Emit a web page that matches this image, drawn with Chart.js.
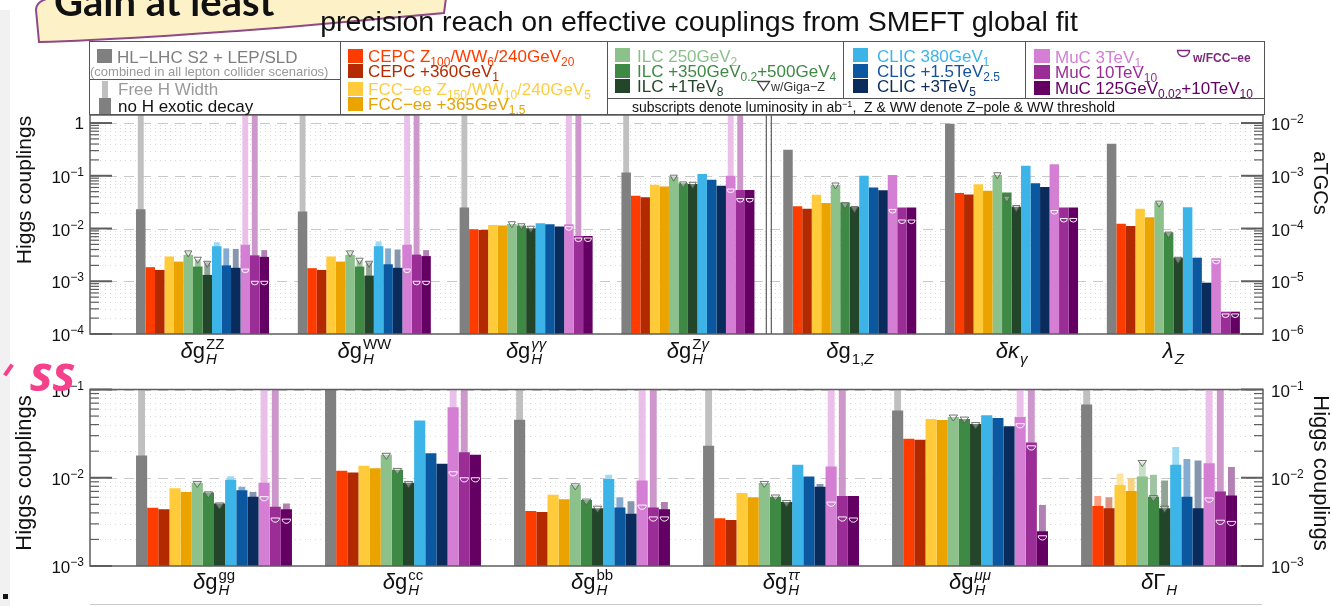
<!DOCTYPE html>
<html><head><meta charset="utf-8">
<script src="https://cdn.jsdelivr.net/npm/chart.js@4.4.1/dist/chart.umd.min.js"></script>
<style>
body{margin:0;width:1332px;height:606px;position:relative;overflow:hidden;background:#fff;font-family:"Liberation Sans",Arial,Helvetica,sans-serif;}
.a{position:absolute;}
.t{position:absolute;white-space:nowrap;transform:translateY(-50%);line-height:1;font-size:17px;}
.sq{position:absolute;width:15px;height:14px;}
.vl{position:absolute;width:0;border-left:1.5px solid #555;}
.hl{position:absolute;height:0;border-top:1.5px solid #555;}
sub{font-size:12px;vertical-align:baseline;position:relative;top:4px;line-height:0;}
sup{font-size:9px;vertical-align:baseline;position:relative;top:-5px;line-height:0;}
</style></head>
<body>
<div class="a" style="left:0;top:10px;width:10px;height:596px;background:#f1f1f1"></div>
<canvas id="topChart" class="a" style="left:0;top:0" width="1332" height="370"></canvas>
<canvas id="botChart" class="a" style="left:0;top:370px" width="1332" height="236"></canvas>

<!-- slide callout -->
<svg class="a" style="left:0;top:0" width="470" height="50">
<path d="M50,-2 Q36,1 36,10 L39,42 C110,40 200,34 300,26 C360,21 410,16 444,13 L446,-2 Z" fill="#fdf1c8" stroke="#8e4a86" stroke-width="2"/>
</svg>
<div class="a" style="left:54px;top:-19px;font:bold 40px Lato,'Open Sans',sans-serif;line-height:40px;color:#111;white-space:nowrap">Gain at least</div>
<div class="a" style="left:30px;top:349px;font:bold italic 48px 'Open Sans',sans-serif;line-height:48px;color:#f5408c;letter-spacing:0px">ss</div>
<div class="a" style="left:2px;top:368px;width:13px;height:4px;background:#f5408c;transform:rotate(-55deg)"></div>
<div class="a" style="left:3px;top:594px;width:5px;height:5px;background:#111"></div>
<div class="a" style="left:90px;top:604px;width:1172px;height:1px;background:#c8c8c8"></div>

<!-- title -->
<div class="t" style="left:33px;width:1332px;text-align:center;top:21px;font-size:28.5px;color:#111">precision reach on effective couplings from SMEFT global fit</div>

<!-- legend frame -->
<div class="a" style="left:89px;top:41px;width:1176px;height:74px;border:1.5px solid #555;box-sizing:border-box;background:#fff"></div>
<div class="vl" style="left:340px;top:41px;height:74px"></div>
<div class="vl" style="left:607px;top:41px;height:74px"></div>
<div class="vl" style="left:843px;top:41px;height:57px"></div>
<div class="vl" style="left:1025px;top:41px;height:57px"></div>
<div class="hl" style="left:89px;top:79px;width:251px"></div>
<div class="hl" style="left:607px;top:98px;width:658px"></div>

<!-- col 1 -->
<div class="sq" style="left:97px;top:49px;background:#808080"></div>
<div class="t" style="left:117px;top:57px;color:#7f7f7f">HL−LHC S2 + LEP/SLD</div>
<div class="t" style="left:90px;top:71px;font-size:13px;color:#9a9a9a">(combined in all lepton collider scenarios)</div>
<div class="a" style="left:102px;top:81px;width:6px;height:17px;background:#c0c0c0"></div>
<div class="a" style="left:99px;top:98px;width:12px;height:16px;background:#808080"></div>
<div class="t" style="left:118px;top:89px;color:#9a9a9a">Free H Width</div>
<div class="t" style="left:118px;top:106px;color:#111">no H exotic decay</div>

<!-- col 2 -->
<div class="sq" style="left:348px;top:49px;background:#ff3c00"></div>
<div class="t" style="left:368px;top:56px;color:#ff3c00">CEPC Z<sub>100</sub>/WW<sub>6</sub>/240GeV<sub>20</sub></div>
<div class="sq" style="left:348px;top:64px;background:#b32a00"></div>
<div class="t" style="left:368px;top:71px;color:#b32a00">CEPC +360GeV<sub>1</sub></div>
<div class="sq" style="left:348px;top:82px;background:#ffcb3a"></div>
<div class="t" style="left:368px;top:89px;color:#ffcd40">FCC−ee Z<sub>150</sub>/WW<sub>10</sub>/240GeV<sub>5</sub></div>
<div class="sq" style="left:348px;top:97px;background:#eba300"></div>
<div class="t" style="left:368px;top:104px;color:#e9a200">FCC−ee +365GeV<sub>1.5</sub></div>

<!-- col 3 -->
<div class="sq" style="left:615px;top:48px;background:#8cc18c"></div>
<div class="t" style="left:637px;top:56px;color:#8cc18c">ILC 250GeV<sub>2</sub></div>
<div class="sq" style="left:615px;top:64px;background:#3e8944"></div>
<div class="t" style="left:637px;top:71px;color:#3e8944">ILC +350GeV<sub>0.2</sub>+500GeV<sub>4</sub></div>
<div class="sq" style="left:615px;top:79px;background:#23462a"></div>
<div class="t" style="left:637px;top:86px;color:#23462a">ILC +1TeV<sub>8</sub></div>
<svg class="a" style="left:756px;top:80px" width="15" height="12"><path d="M1.5,1.5 L13.5,1.5 L7.5,10.5 Z" fill="none" stroke="#444" stroke-width="1.3"/></svg>
<div class="t" style="left:771px;top:87px;font-size:12.5px;color:#333">w/Giga−Z</div>
<div class="t" style="left:632px;top:107px;font-size:14px;color:#111">subscripts denote luminosity in ab<sup>−1</sup>,&nbsp;&nbsp;Z &amp; WW denote Z−pole &amp; WW threshold</div>

<!-- col 4 -->
<div class="sq" style="left:853px;top:48px;background:#3db4e8"></div>
<div class="t" style="left:877px;top:56px;color:#3db4e8">CLIC 380GeV<sub>1</sub></div>
<div class="sq" style="left:853px;top:64px;background:#0b58a0"></div>
<div class="t" style="left:877px;top:71px;color:#1553a0">CLIC +1.5TeV<sub>2.5</sub></div>
<div class="sq" style="left:853px;top:79px;background:#0a2c5c"></div>
<div class="t" style="left:877px;top:86px;color:#0a2c5c">CLIC +3TeV<sub>5</sub></div>

<!-- col 5 -->
<div class="sq" style="left:1034px;top:49px;width:16px;background:#d47fd4"></div>
<div class="t" style="left:1055px;top:57px;color:#d47fd4">MuC 3TeV<sub>1</sub></div>
<div class="sq" style="left:1034px;top:65px;width:16px;background:#9a2e96"></div>
<div class="t" style="left:1055px;top:72px;color:#9a2e96">MuC 10TeV<sub>10</sub></div>
<div class="sq" style="left:1034px;top:81px;width:16px;background:#640064"></div>
<div class="t" style="left:1055px;top:88px;color:#640064">MuC 125GeV<sub>0.02</sub>+10TeV<sub>10</sub></div>
<svg class="a" style="left:1176px;top:49px" width="16" height="10"><path d="M1.5,1.5 L13.5,1.5 A6,6 0 0 1 1.5,1.5 Z" fill="none" stroke="#7b2a7b" stroke-width="1.4"/></svg>
<div class="t" style="left:1193px;top:58px;font-size:12px;font-weight:bold;color:#7b2a7b">w/FCC−ee</div>

<script>
// ---------------- DATA ----------------
const OFF = 10; // bar runs past the top of the axis
const seriesNames = ['HL-LHC S2 + LEP/SLD','CEPC Z100/WW6/240GeV20','CEPC +360GeV1','FCC-ee Z150/WW10/240GeV5','FCC-ee +365GeV1.5',
  'ILC 250GeV2','ILC +350GeV0.2+500GeV4','ILC +1TeV8','CLIC 380GeV1','CLIC +1.5TeV2.5','CLIC +3TeV5','MuC 3TeV1','MuC 10TeV10','MuC 125GeV0.02+10TeV10'];
const seriesColors = ['#808080','#ff3c00','#b32a00','#ffcb3a','#eba300','#8cc18c','#3e8944','#23462a','#3db4e8','#0b58a0','#0a2c5c','#d47fd4','#9a2e96','#640064'];

const topCategories = ['δg_H^ZZ','δg_H^WW','δg_H^γγ','δg_H^Zγ','δg_1,Z','δκ_γ','λ_Z'];
const topLeftTicks  = [1, 1e-1, 1e-2, 1e-3, 1e-4];
const topRightTicks = [1e-2, 1e-3, 1e-4, 1e-5, 1e-6];
const botCategories = ['δg_H^gg','δg_H^cc','δg_H^bb','δg_H^ττ','δg_H^μμ','δΓ_H'];
const botTicks = [1e-1, 1e-2, 1e-3];

// no H exotic decay (solid) values, series order as seriesNames
const ZZ  = [0.0233,1.85e-3,1.64e-3,2.95e-3,2.36e-3,3.16e-3,1.9e-3,1.32e-3,4.6e-3,2.0e-3,1.8e-3,4.9e-3,3.1e-3,2.9e-3];
const WW  = [0.021,1.77e-3,1.64e-3,2.95e-3,2.36e-3,3.16e-3,1.9e-3,1.28e-3,4.6e-3,2.1e-3,1.8e-3,4.9e-3,3.2e-3,3.0e-3];
const AA  = [0.0251,9.7e-3,9.4e-3,0.0117,0.0114,0.0122,0.0114,0.0101,0.0126,0.0121,0.0109,0.012,7.2e-3,7.2e-3];
const ZA  = [0.1157,0.0417,0.0393,0.0675,0.0625,0.0944,0.0725,0.070,0.1075,0.0843,0.0644,0.0996,0.054,0.054];
const G1Z = [3.12e-3,2.63e-4,2.38e-4,4.36e-4,3.05e-4,6.7e-4,3.1e-4,2.55e-4,1.0e-3,6.0e-4,5.3e-4,1.04e-3,2.5e-4,2.5e-4];
const KA  = [9.7e-3,4.7e-4,4.4e-4,6.9e-4,5.2e-4,1.04e-3,4.8e-4,2.6e-4,1.55e-3,7.2e-4,6.1e-4,1.66e-3,2.5e-4,2.5e-4];
const LZ  = [4.05e-3,1.23e-4,1.12e-4,2.36e-4,1.64e-4,3.16e-4,8.4e-5,2.8e-5,2.54e-4,2.8e-5,9.4e-6,2.73e-5,2.65e-6,2.65e-6];
// free H width (light) values
const ZZ_free = [OFF,null,null,null,null,3.6e-3,2.6e-3,2.3e-3,5.5e-3,4.2e-3,4.1e-3,OFF,OFF,3.9e-3];
const WW_free = [OFF,null,null,null,null,3.6e-3,2.5e-3,2.3e-3,5.7e-3,4.2e-3,4.0e-3,OFF,OFF,3.9e-3];
const AA_free = [OFF,null,null,null,null,null,null,null,null,null,null,OFF,OFF,null];
const ZA_free = [OFF,null,null,null,null,null,null,null,null,null,null,OFF,OFF,null];
// w/Giga-Z (ILC) and w/FCC-ee (MuC) markers
const ZZ_mark  = [null,null,null,null,null,3.3e-3,2.5e-3,2.1e-3,null,null,null,1.7e-3,1.0e-3,1.0e-3];
const WW_mark  = [null,null,null,null,null,3.3e-3,2.4e-3,2.1e-3,null,null,null,1.7e-3,1.0e-3,1.0e-3];
const AA_mark  = [null,null,null,null,null,0.0118,0.0108,0.0097,null,null,null,0.0108,6.6e-3,6.6e-3];
const ZA_mark  = [null,null,null,null,null,0.090,0.067,0.066,null,null,null,0.056,0.037,0.037];
const G1Z_mark = [null,null,null,null,null,6.4e-4,2.7e-4,2.3e-4,null,null,null,2.3e-4,1.45e-4,1.45e-4];
const KA_mark  = [null,null,null,null,null,1.0e-3,3.6e-4,2.4e-4,null,null,null,2.2e-4,1.55e-4,1.55e-4];
const LZ_mark  = [null,null,null,null,null,2.9e-4,7.5e-5,2.5e-5,null,null,null,2.5e-5,2.4e-6,2.4e-6];

const GG = [0.0179,4.57e-3,4.4e-3,7.6e-3,6.9e-3,8.7e-3,6.8e-3,5.1e-3,9.5e-3,7.2e-3,6.1e-3,8.8e-3,4.7e-3,4.4e-3];
const CC = [OFF,0.012,0.0115,0.0137,0.0128,0.0182,0.0123,8.8e-3,0.0444,0.019,0.0144,0.063,0.0194,0.0182];
const BB = [0.0455,4.2e-3,4.1e-3,6.4e-3,5.7e-3,8.3e-3,5.6e-3,4.5e-3,9.7e-3,4.6e-3,3.9e-3,9.3e-3,4.6e-3,4.4e-3];
const TT = [0.023,3.47e-3,3.33e-3,6.7e-3,6.0e-3,8.7e-3,6.1e-3,5.3e-3,0.014,0.0103,7.9e-3,0.0134,6.2e-3,6.2e-3];
const MM = [0.0577,0.0277,0.027,0.0464,0.0452,0.0488,0.0464,0.0407,0.051,0.0476,0.0383,0.0488,0.0251,2.48e-3];
const GH = [0.0674,4.8e-3,4.5e-3,8.3e-3,7.1e-3,0.0103,6.1e-3,4.5e-3,0.014,6.1e-3,4.5e-3,0.0146,7.0e-3,6.3e-3];
const GG_free = [OFF,null,null,null,null,9.0e-3,null,null,0.0104,7.9e-3,6.9e-3,OFF,OFF,5.1e-3];
const CC_free = [null,null,null,null,null,null,null,null,null,null,null,OFF,OFF,null];
const BB_free = [OFF,null,null,null,null,null,null,null,0.0108,6.0e-3,5.4e-3,OFF,OFF,5.3e-3];
const TT_free = [OFF,null,null,null,null,null,null,null,null,null,8.5e-3,OFF,OFF,null];
const MM_free = [OFF,null,null,null,null,null,null,null,null,null,null,OFF,OFF,4.9e-3];
const GH_free = [OFF,6.2e-3,6.0e-3,0.0112,9.9e-3,0.0153,0.0108,9.3e-3,0.0223,0.0163,0.0157,OFF,OFF,0.0132];
const GG_mark = [null,null,null,null,null,8.4e-3,6.4e-3,4.8e-3,null,null,null,6.1e-3,3.5e-3,3.4e-3];
const CC_mark = [null,null,null,null,null,0.0175,0.0118,8.4e-3,null,null,null,0.0117,0.0100,0.0100];
const BB_mark = [null,null,null,null,null,7.9e-3,5.3e-3,4.4e-3,null,null,null,4.9e-3,3.6e-3,3.6e-3];
const TT_mark = [null,null,null,null,null,8.4e-3,5.9e-3,5.1e-3,null,null,null,5.3e-3,3.6e-3,3.5e-3];
const MM_mark = [null,null,null,null,null,0.0475,0.045,0.039,null,null,null,0.041,0.023,2.2e-3];
const GH_mark = [null,null,null,null,null,0.0145,5.8e-3,4.4e-3,null,null,null,5.9e-3,3.3e-3,3.2e-3];

// ---------------- BUILD ----------------
const topGroups = [ZZ,WW,AA,ZA,G1Z,KA,LZ];
const topFrees  = [ZZ_free,WW_free,AA_free,ZA_free,null,null,null];
const topMarks  = [ZZ_mark,WW_mark,AA_mark,ZA_mark,G1Z_mark,KA_mark,LZ_mark];
const topAxes   = ['y','y','y','y','y2','y2','y2'];
const botGroups = [GG,CC,BB,TT,MM,GH];
const botFrees  = [GG_free,CC_free,BB_free,TT_free,MM_free,GH_free];
const botMarks  = [GG_mark,CC_mark,BB_mark,TT_mark,MM_mark,GH_mark];
const botAxes   = ['y','y','y','y','y','y'];

function lighten(hex, f) {
  const n = parseInt(hex.slice(1), 16);
  const c = [(n >> 16) & 255, (n >> 8) & 255, n & 255].map(v => Math.round(v + (255 - v) * f));
  return `rgb(${c[0]},${c[1]},${c[2]})`;
}

function buildDatasets(groups, frees, axes, catPct) {
  const ds = [];
  const axisIds = [...new Set(axes)];
  const addSet = (s, src, kind) => {
    for (const ax of axisIds) {
      const pts = [];
      src.forEach((g, i) => { if (g && axes[i] === ax && g[s] != null) pts.push({x: i, y: g[s]}); });
      if (!pts.length) continue;
      ds.push({
        label: seriesNames[s] + (kind === 'free' ? ' (free H width)' : ''),
        data: pts, yAxisID: ax, stack: 's' + s, kind, series: s,
        backgroundColor: kind === 'free' ? lighten(seriesColors[s], 0.5) : seriesColors[s],
        categoryPercentage: catPct, barPercentage: kind === 'free' ? 0.62 : 1.0,
        borderWidth: 0
      });
    }
  };
  for (let s = 0; s < seriesNames.length; s++) addSet(s, groups, 'main');
  for (let s = 0; s < seriesNames.length; s++) addSet(s, frees, 'free');
  return ds;
}

const FONT = '"Liberation Sans", Arial, Helvetica, sans-serif';
const font = (sz, it, b) => `${it ? 'italic ' : ''}${b ? 'bold ' : ''}${sz}px ${FONT}`;
const isItal = (ch, role) => /[α-ω]/.test(ch) || (role === 'sub' && /[A-Z]/.test(ch));
function runWidth(ctx, str, size, role) { let w = 0; for (const ch of str) { ctx.font = font(size, isItal(ch, role)); w += ctx.measureText(ch).width; } return w; }
function drawRun(ctx, str, x, y, size, role) { for (const ch of str) { ctx.font = font(size, isItal(ch, role)); ctx.fillText(ch, x, y); x += ctx.measureText(ch).width; } return x; }
function drawCatLabel(ctx, label, cx, base) {
  const m = label.match(/^([^_^]+)(?:_([^^]+))?(?:\^(.+))?$/);
  const main = m[1], sub = m[2] || '', sup = m[3] || '';
  const MS = 22, SS = 15;
  const wm = runWidth(ctx, main, MS, 'main');
  const ws = Math.max(runWidth(ctx, sub, SS, 'sub'), runWidth(ctx, sup, SS, 'sup'));
  let x = cx - (wm + ws + 1) / 2;
  ctx.textAlign = 'left'; ctx.textBaseline = 'alphabetic'; ctx.fillStyle = '#111';
  x = drawRun(ctx, main, x, base, MS, 'main') + 1;
  if (sub) drawRun(ctx, sub, x, base + 6, SS, 'sub');
  if (sup) drawRun(ctx, sup, x, base - 9, SS, 'sup');
}
function decadeLabel(ctx, x, y, v, align) {
  const exp = Math.round(Math.log10(v));
  ctx.fillStyle = '#111'; ctx.textBaseline = 'alphabetic';
  if (exp === 0) { ctx.font = font(17); ctx.textAlign = align; ctx.fillText('1', x, y + 6); return; }
  const supTxt = '\u2212' + Math.abs(exp);
  ctx.font = font(17); const w1 = ctx.measureText('10').width;
  ctx.font = font(12); const w2 = ctx.measureText(supTxt).width;
  const x0 = align === 'right' ? x - w1 - w2 : x;
  ctx.textAlign = 'left';
  ctx.font = font(17); ctx.fillText('10', x0, y + 7);
  ctx.font = font(12); ctx.fillText(supTxt, x0 + w1, y);
}
function rotText(ctx, text, x, y, size, ang) {
  ctx.save(); ctx.translate(x, y); ctx.rotate(ang);
  ctx.font = font(size); ctx.fillStyle = '#111'; ctx.textAlign = 'center'; ctx.textBaseline = 'middle';
  ctx.fillText(text, 0, 0); ctx.restore();
}

function panelPlugin(cfg) {
  return {
    id: 'panel_' + cfg.name,
    beforeDatasetsDraw(chart) {
      const {ctx, chartArea: a} = chart; const ys = chart.scales.y;
      ctx.save(); ctx.lineWidth = 1;
      const lo = Math.floor(Math.log10(ys.min)), hi = Math.ceil(Math.log10(ys.max));
      for (let d = lo; d <= hi; d++) for (let k = 1; k <= 9; k++) {
        const v = k * Math.pow(10, d);
        if (v <= ys.min * 1.001 || v > ys.max) continue;
        const y = Math.round(ys.getPixelForValue(v)) + 0.5;
        ctx.setLineDash(k === 1 ? [10, 7] : [1, 4]);
        ctx.strokeStyle = k === 1 ? '#c8c8c8' : '#dadada';
        ctx.beginPath(); ctx.moveTo(a.left, y); ctx.lineTo(a.right, y); ctx.stroke();
      }
      ctx.restore();
    },
    afterDatasetsDraw(chart) {
      const {ctx, chartArea: a} = chart;
      ctx.save();
      // markers
      chart.data.datasets.forEach((ds, di) => {
        if (ds.kind !== 'main') return;
        const meta = chart.getDatasetMeta(di); const sc = chart.scales[ds.yAxisID];
        meta.data.forEach((el, j) => {
          const g = ds.data[j].x; const mv = cfg.marks[g][ds.series];
          if (mv == null) return;
          const y = sc.getPixelForValue(mv); const x = el.x; const r = el.width * 0.38;
          ctx.setLineDash([]); ctx.lineWidth = 1;
          if (ds.series >= 11) {
            ctx.strokeStyle = 'rgba(255,255,255,0.95)';
            ctx.beginPath(); ctx.moveTo(x - r, y); ctx.lineTo(x + r, y); ctx.arc(x, y, r, 0, Math.PI); ctx.closePath(); ctx.stroke();
          } else {
            ctx.fillStyle = 'rgba(255,255,255,0.35)'; ctx.strokeStyle = 'rgba(90,90,90,0.85)';
            ctx.beginPath(); ctx.moveTo(x - r, y - 3); ctx.lineTo(x + r, y - 3); ctx.lineTo(x, y + 3); ctx.closePath(); ctx.fill(); ctx.stroke();
          }
        });
      });
      // frame
      ctx.setLineDash([]); ctx.strokeStyle = '#5e5e5e'; ctx.lineWidth = 1.5;
      ctx.strokeRect(a.left, a.top, a.right - a.left, a.bottom - a.top);
      if (cfg.divider != null) {
        const xd = chart.scales.x.getPixelForValue(cfg.divider); ctx.lineWidth = 1.2;
        [-2.5, 2.5].forEach(o => { ctx.beginPath(); ctx.moveTo(xd + o, a.top); ctx.lineTo(xd + o, a.bottom); ctx.stroke(); });
      }
      // axis ticks (inside)
      const drawTicks = (sc, side) => {
        const lo = Math.floor(Math.log10(sc.min)), hi = Math.ceil(Math.log10(sc.max));
        for (let d = lo; d <= hi; d++) for (let k = 1; k <= 9; k++) {
          const v = k * Math.pow(10, d);
          if (v < sc.min * 0.999 || v > sc.max) continue;
          const y = sc.getPixelForValue(v); const L = k === 1 ? 22 : 9;
          ctx.lineWidth = k === 1 ? 2 : 1.2; ctx.strokeStyle = '#5e5e5e';
          ctx.beginPath();
          if (side === 'left') { ctx.moveTo(a.left, y); ctx.lineTo(a.left + L, y); }
          else { ctx.moveTo(a.right, y); ctx.lineTo(a.right - L, y); }
          ctx.stroke();
        }
      };
      drawTicks(chart.scales.y, 'left');
      drawTicks(chart.scales[cfg.rightAxis], 'right');
      ctx.restore();
    },
    afterDraw(chart) {
      const {ctx, chartArea: a} = chart;
      ctx.save();
      cfg.leftTicks.forEach(v => decadeLabel(ctx, a.left - 6, chart.scales.y.getPixelForValue(v), v, 'right'));
      cfg.rightTicks.forEach(v => decadeLabel(ctx, a.right + 8, chart.scales[cfg.rightAxis].getPixelForValue(v), v, 'left'));
      cfg.categories.forEach((lab, i) => drawCatLabel(ctx, lab, chart.scales.x.getPixelForValue(i), cfg.labelBase));
      rotText(ctx, cfg.leftTitle.text, cfg.leftTitle.x, cfg.leftTitle.y, cfg.leftTitle.size, -Math.PI / 2);
      rotText(ctx, cfg.rightTitle.text, cfg.rightTitle.x, cfg.rightTitle.y, cfg.rightTitle.size, Math.PI / 2);
      ctx.restore();
    }
  };
}

function makeChart(id, groups, frees, marks, axes, categories, opts) {
  const scales = {
    x: { type: 'linear', display: false, offset: false, min: opts.xmin, max: opts.xmax,
         afterBuildTicks: ax => { ax.ticks = categories.map((_, i) => ({value: i})); } },
    y: { type: 'logarithmic', display: false, min: opts.ymin, max: opts.ymax, stacked: false, position: 'left' }
  };
  if (opts.y2min) scales.y2 = { type: 'logarithmic', display: false, min: opts.y2min, max: opts.y2max, stacked: false, position: 'right' };
  return new Chart(document.getElementById(id), {
    type: 'bar',
    data: { datasets: buildDatasets(groups, frees, axes, opts.catPct) },
    options: {
      responsive: false, animation: false, devicePixelRatio: 1,
      layout: { padding: opts.padding },
      plugins: { legend: { display: false }, tooltip: { enabled: false } },
      scales
    },
    plugins: [panelPlugin(Object.assign({ marks, categories }, opts.panel))]
  });
}

makeChart('topChart', topGroups, topFrees, topMarks, topAxes, topCategories, {
  xmin: -0.6953, xmax: 6.554, ymin: 1e-4, ymax: 1.42, y2min: 1e-6, y2max: 1.42e-2, catPct: 0.822,
  padding: { left: 90, right: 69, top: 115, bottom: 36 },
  panel: { name: 'top', divider: 3.5, rightAxis: 'y2', leftTicks: topLeftTicks, rightTicks: topRightTicks, labelBase: 358,
           leftTitle: { text: 'Higgs couplings', x: 25, y: 190, size: 21 }, rightTitle: { text: 'aTGCs', x: 1320, y: 183, size: 20 } }
});
makeChart('botChart', botGroups, botFrees, botMarks, botAxes, botCategories, {
  xmin: -0.656, xmax: 5.55, ymin: 1e-3, ymax: 0.1, catPct: 0.825,
  padding: { left: 90, right: 69, top: 19.5, bottom: 40 },
  panel: { name: 'bot', divider: null, rightAxis: 'y', leftTicks: botTicks, rightTicks: botTicks, labelBase: 219,
           leftTitle: { text: 'Higgs couplings', x: 25, y: 103, size: 22 }, rightTitle: { text: 'Higgs couplings', x: 1320, y: 103, size: 22 } }
});
</script>
</body></html>
